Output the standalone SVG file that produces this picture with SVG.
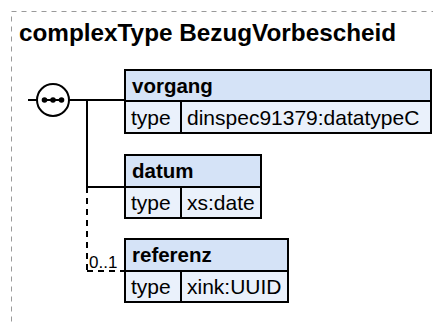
<svg xmlns="http://www.w3.org/2000/svg" width="433" height="323" viewBox="0 0 433 323">
<style>
.frame{fill:none;stroke:#9a9a9a;stroke-width:1;stroke-dasharray:5,5}
.title{font-family:"Liberation Sans",Arial,sans-serif;font-weight:bold;font-size:24.3px;fill:#000}
.hd{fill:#d5e3f7;stroke:#000;stroke-width:2}
.rw{fill:#eaf1fb;stroke:#000;stroke-width:2}
.nm{font-family:"Liberation Sans",Arial,sans-serif;font-weight:bold;font-size:20.5px;fill:#000}
.tx{font-family:"Liberation Sans",Arial,sans-serif;font-size:21px;fill:#000}
.lbl{font-family:"Liberation Sans",Arial,sans-serif;font-size:17px;fill:#000}
.ln{fill:none;stroke:#000;stroke-width:2}
.dash{fill:none;stroke:#000;stroke-width:2;stroke-dasharray:6,5}
</style>
<rect class="frame" x="11.5" y="11.5" width="440" height="340"/>
<text class="title" x="19" y="41">complexType BezugVorbescheid</text>
<g id="connectors">
<line class="ln" x1="28" y1="100" x2="37" y2="100"/>
<line class="ln" x1="69" y1="100" x2="125" y2="100"/>
<line class="ln" x1="87" y1="100" x2="87" y2="187"/>
<line class="ln" x1="87" y1="187" x2="125" y2="187"/>
<line class="dash" x1="87" y1="187" x2="87" y2="271"/>
<line class="dash" x1="87" y1="271" x2="124" y2="271"/>
<text class="lbl" x="89" y="268">0..1</text>
</g>
<g id="sequence">
<circle cx="53" cy="100" r="16" fill="#fff" stroke="#000" stroke-width="2"/>
<line class="ln" x1="43" y1="100" x2="63" y2="100"/>
<circle cx="44.5" cy="100" r="2.8" fill="#000"/>
<circle cx="53" cy="100" r="2.8" fill="#000"/>
<circle cx="61.5" cy="100" r="2.8" fill="#000"/>
</g>
<g id="vorgang">
<rect class="hd" x="125" y="70" width="306" height="31"/>
<rect class="rw" x="125" y="101" width="56" height="32"/>
<rect class="rw" x="181" y="101" width="250" height="32"/>
<text class="nm" x="132" y="93">vorgang</text>
<text class="tx" x="131" y="125">type</text>
<text class="tx" x="187" y="125">dinspec91379:datatypeC</text>
</g>
<g id="datum">
<rect class="hd" x="125" y="155" width="136" height="32"/>
<rect class="rw" x="125" y="187" width="56" height="31"/>
<rect class="rw" x="181" y="187" width="80" height="31"/>
<text class="nm" x="132" y="178">datum</text>
<text class="tx" x="131" y="210">type</text>
<text class="tx" x="187" y="210">xs:date</text>
</g>
<g id="referenz">
<rect class="hd" x="125" y="239" width="163" height="32"/>
<rect class="rw" x="125" y="271" width="56" height="31"/>
<rect class="rw" x="181" y="271" width="107" height="31"/>
<text class="nm" x="132" y="262">referenz</text>
<text class="tx" x="131" y="294">type</text>
<text class="tx" x="187" y="294">xink:UUID</text>
</g>
</svg>
